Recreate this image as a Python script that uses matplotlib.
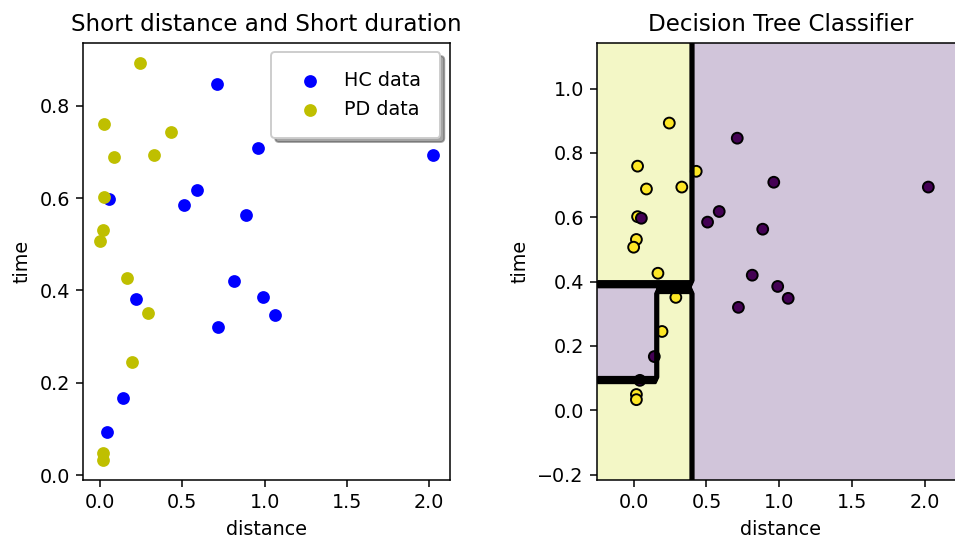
import numpy as np
import matplotlib
matplotlib.use('Agg')
import matplotlib.pyplot as plt

# HC (healthy control) points: distance, time
hc_distance = [0.712, 0.963, 2.025, 0.588, 0.508, 0.053, 0.887, 0.815, 0.990, 0.220, 1.062, 0.720, 0.142, 0.043]
hc_time = [0.846, 0.709, 0.694, 0.618, 0.585, 0.597, 0.563, 0.420, 0.385, 0.382, 0.348, 0.320, 0.167, 0.093]

# PD points: distance, time
pd_distance = [0.245, 0.027, 0.430, 0.331, 0.088, 0.027, 0.019, 0.000, 0.167, 0.290, 0.195, 0.019, 0.019]
pd_time = [0.893, 0.759, 0.743, 0.694, 0.688, 0.602, 0.531, 0.507, 0.426, 0.351, 0.245, 0.049, 0.033]

# split thresholds of the fitted tree
split_distance = 0.405
split_time_hi = 0.40
split_time_mid = 0.372
split_distance_lo = 0.155
split_time_lo = 0.10


def predict(d, t):
    # 1 = PD, 0 = HC
    z = np.ones_like(d)
    z[d >= split_distance] = 0
    left = d < split_distance
    z[left & (t <= split_time_hi) & (t > split_time_mid)] = 0
    z[left & (d < split_distance_lo) & (t <= split_time_hi) & (t > split_time_lo)] = 0
    return z


dpi = 138
fig = plt.figure(figsize=(955 / dpi, 540 / dpi), dpi=dpi)

# left: raw data
ax1 = fig.add_axes([0.0872, 0.111, 0.384, 0.81])
ax1.scatter(hc_distance, hc_time, c='b', s=32, label='HC data')
ax1.scatter(pd_distance, pd_time, c='y', s=32, label='PD data')
ax1.set_title('Short distance and Short duration')
ax1.set_xlabel('distance')
ax1.set_ylabel('time')
ax1.legend(loc='upper right', shadow=True, borderpad=1.0)

# right: decision regions
X = np.array(list(zip(pd_distance + hc_distance, pd_time + hc_time)))
y = np.array([1] * len(pd_distance) + [0] * len(hc_distance))

h = 0.02
x_min, x_max = X[:, 0].min() - 0.25, X[:, 0].max() + 0.26
y_min, y_max = X[:, 1].min() - 0.25, X[:, 1].max() + 0.26
xx, yy = np.meshgrid(np.arange(x_min, x_max, h), np.arange(y_min, y_max, h))
Z = predict(xx.ravel(), yy.ravel()).reshape(xx.shape)

ax2 = fig.add_axes([0.6254, 0.111, 0.384, 0.81])
ax2.contourf(xx, yy, Z, alpha=0.25)
ax2.contour(xx, yy, Z, colors='k', linewidths=1.3)
ax2.scatter(X[:, 0], X[:, 1], c=y, s=32, edgecolors='k')
ax2.set_xlim(xx.min(), xx.max())
ax2.set_ylim(yy.min(), yy.max())
ax2.set_title('Decision Tree Classifier')
ax2.set_xlabel('distance')
ax2.set_ylabel('time')

fig.savefig('out.png', dpi=dpi)
